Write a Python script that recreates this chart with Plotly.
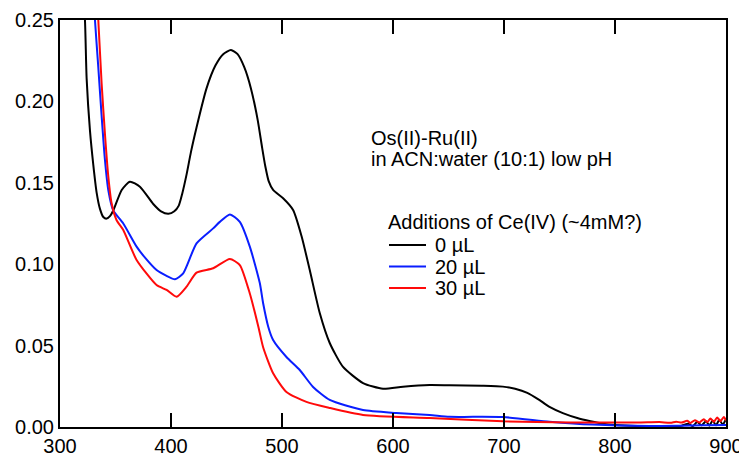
import plotly.graph_objects as go

# ---- data ----
wl_0 = [319, 322.5, 324, 327, 330, 333, 336, 339, 342, 345, 348, 355.6, 363, 372, 384, 391, 397.6, 403, 407,
        410, 414, 418, 423, 432, 440, 447, 454, 460, 466, 472, 478, 482, 485, 488, 492, 501, 510, 517.7, 525,
        534, 543, 555, 573, 591, 609, 633, 651, 680, 699, 710, 721, 731, 741, 753, 766, 778, 789, 800, 820,
        850, 860, 866, 870, 874, 878, 882, 885, 888, 891, 894, 897, 900]
abs_0 = [0.29, 0.25, 0.214, 0.182, 0.161, 0.144, 0.134, 0.129, 0.128, 0.1295, 0.133, 0.1456, 0.1507, 0.1476,
         0.137, 0.1325, 0.131, 0.1325, 0.136, 0.143, 0.155, 0.169, 0.184, 0.208, 0.222, 0.229, 0.2316, 0.229,
         0.221, 0.208, 0.189, 0.172, 0.160, 0.151, 0.1456, 0.1405, 0.1333, 0.117, 0.0964, 0.070, 0.0516,
         0.0369, 0.027, 0.0235, 0.0248, 0.0258, 0.0256, 0.0253, 0.0248, 0.0235, 0.021, 0.017, 0.0123, 0.0085,
         0.0055, 0.0035, 0.002, 0.0012, 0.0006, 0.0005, 0.0008, 0.002, 0.0005, 0.003, 0.001, 0.0035, 0.0008,
         0.004, 0.001, 0.0045, 0.0015, 0.005]

wl_20 = [328, 331.5, 334.5, 337.5, 340.5, 343.5, 348, 357, 369, 376.6, 387, 396, 403.6, 411, 423, 438, 444,
         453, 462, 471, 480, 483, 487.6, 492, 504, 516, 528, 543, 573, 603, 633, 651, 699, 741, 780, 831,
         860, 880, 900]
abs_20 = [0.29, 0.25, 0.221, 0.191, 0.164, 0.1456, 0.133, 0.125, 0.1108, 0.104, 0.0964, 0.0928, 0.0907,
          0.0944, 0.1128, 0.122, 0.126, 0.1306, 0.126, 0.1108, 0.0884, 0.076, 0.0616, 0.0534, 0.043, 0.035,
          0.0246, 0.0166, 0.0104, 0.0086, 0.0074, 0.0063, 0.0061, 0.0033, 0.0015, 0.0006, 0.0008, 0.0010,
          0.0012]

wl_30 = [331, 334.5, 337.5, 340.5, 343.5, 346.5, 351, 357, 369, 387, 396, 405, 414, 423, 438, 453, 462, 471,
         478.7, 483, 492, 504, 522, 543, 573, 633, 699, 760, 820,
         840, 850, 855, 860, 865, 868, 872, 876, 880, 883, 886, 889, 892, 895, 898, 900]
abs_30 = [0.29, 0.25, 0.211, 0.180, 0.154, 0.1374, 0.127, 0.121, 0.1026, 0.0872, 0.0842, 0.080, 0.0862,
          0.0948, 0.0975, 0.1032, 0.0995, 0.082, 0.0616, 0.049, 0.033, 0.0215, 0.0154, 0.0117, 0.0074,
          0.0055, 0.0035, 0.0028, 0.0027,
          0.0030, 0.0026, 0.0033, 0.0027, 0.0038, 0.0025, 0.0042, 0.0028, 0.0048, 0.0030, 0.0052, 0.0032,
          0.0058, 0.0035, 0.0062, 0.0040]

series_names = ["0 µL", "20 µL", "30 µL"]
series_colors = ["#000000", "#0a1eff", "#ff0a0a"]
legend_title = "Additions of Ce(IV) (~4mM?)"
note_lines = ["Os(II)-Ru(II)", "in ACN:water (10:1) low pH"]

x_ticks = [300, 400, 500, 600, 700, 800, 900]
y_ticks = [0.00, 0.05, 0.10, 0.15, 0.20, 0.25]

FONT = "Liberation Sans, Arial, sans-serif"
FS = 20
OFF = 8                      # page body margin offset
W, H = 747 - OFF, 456 - OFF
ML, MT = 60 - OFF, 20 - OFF  # plot area in page pixels: x 60..726, y 20..427
MR, MB = 747 - 726, 456 - 427
PW, PH = W - ML - MR, H - MT - MB


def px(xp):  # page pixel -> paper x
    return (xp - OFF - ML) / PW


def py(yp):  # page pixel -> paper y
    return (H - MB - (yp - OFF)) / PH


fig = go.Figure()
for wl, ab, name, col in zip([wl_0, wl_20, wl_30], [abs_0, abs_20, abs_30], series_names, series_colors):
    fig.add_trace(go.Scatter(x=wl, y=ab, mode="lines", name=name, showlegend=False,
                             line=dict(color=col, width=2, shape="spline", smoothing=0.6)))

fig.update_layout(
    width=W, height=H,
    margin=dict(l=ML, r=MR, t=MT, b=MB, autoexpand=False),
    paper_bgcolor="white", plot_bgcolor="white",
    font=dict(family=FONT, size=FS, color="black"),
    showlegend=False,
)
fig.update_xaxes(range=[300, 900], tickvals=x_ticks, ticktext=[str(v) for v in x_ticks],
                 ticks="inside", ticklen=14, tickwidth=2, tickcolor="black",
                 showline=True, linewidth=2, linecolor="black", mirror="ticks",
                 showgrid=False, zeroline=False, tickfont=dict(size=FS), automargin=False)
fig.update_yaxes(range=[0, 0.25], tickvals=y_ticks, ticktext=["%.2f" % v for v in y_ticks],
                 ticks="", showline=True, linewidth=2, linecolor="black", mirror=True,
                 showgrid=False, zeroline=False, tickfont=dict(size=FS), automargin=False)

# note text (two lines)
for i, line in enumerate(note_lines):
    fig.add_annotation(text=line, xref="paper", yref="paper", x=px(369), y=py(138 + 21 * i),
                       xanchor="left", yanchor="middle", showarrow=False, font=dict(size=FS))

# hand-drawn legend
fig.add_annotation(text=legend_title, xref="paper", yref="paper", x=px(386), y=py(222),
                   xanchor="left", yanchor="middle", showarrow=False, font=dict(size=FS))
for i, (name, col) in enumerate(zip(series_names, series_colors)):
    yy = py(245 + 21.5 * i)
    fig.add_shape(type="line", xref="paper", yref="paper", x0=px(389), x1=px(426), y0=yy, y1=yy,
                  line=dict(color=col, width=2))
    fig.add_annotation(text=name, xref="paper", yref="paper", x=px(433), y=yy,
                       xanchor="left", yanchor="middle", showarrow=False, font=dict(size=FS))

fig.write_html("out.html")
